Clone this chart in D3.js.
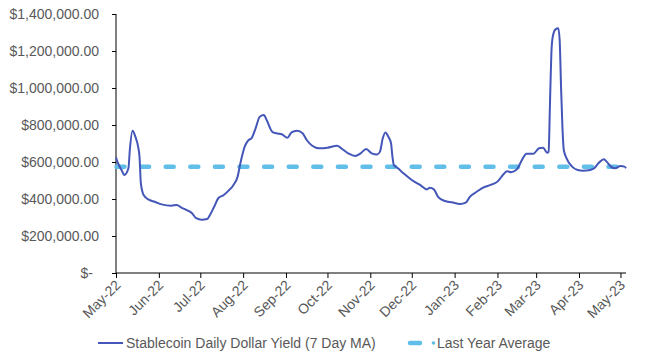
<!DOCTYPE html>
<html>
<head>
<meta charset="utf-8">
<script src="https://cdn.jsdelivr.net/npm/d3@7"></script>
<style>
  html, body { margin: 0; padding: 0; background: #fff; }
  svg { display: block; }
  text { font-family: "Liberation Sans", Arial, sans-serif; fill: #595959; }
</style>
</head>
<body>
<svg id="chart" width="648" height="360"></svg>
<script>
// ---- data ----
const dates = [
  "2022-05-01","2022-05-02","2022-05-05","2022-05-07","2022-05-10","2022-05-11","2022-05-13","2022-05-15",
  "2022-05-17","2022-05-18","2022-05-19","2022-05-21","2022-05-25","2022-05-29","2022-06-03","2022-06-10",
  "2022-06-14","2022-06-17","2022-06-22","2022-06-25","2022-06-28","2022-07-02","2022-07-06","2022-07-08",
  "2022-07-11","2022-07-14","2022-07-18","2022-07-22","2022-07-25","2022-07-28","2022-07-30","2022-08-02",
  "2022-08-04","2022-08-05","2022-08-07","2022-08-10","2022-08-13","2022-08-16","2022-08-18","2022-08-22",
  "2022-08-25","2022-08-29","2022-09-02","2022-09-05","2022-09-09","2022-09-13","2022-09-16","2022-09-20",
  "2022-09-25","2022-10-01","2022-10-08","2022-10-11","2022-10-16","2022-10-21","2022-10-25","2022-10-29",
  "2022-11-02","2022-11-06","2022-11-08","2022-11-10","2022-11-12","2022-11-14","2022-11-16","2022-11-17",
  "2022-11-18","2022-11-21","2022-11-25","2022-12-01","2022-12-07","2022-12-12","2022-12-14","2022-12-17",
  "2022-12-20","2022-12-25","2022-12-30","2023-01-05","2023-01-09","2023-01-12","2023-01-17","2023-01-22",
  "2023-01-27","2023-02-01","2023-02-04","2023-02-08","2023-02-11","2023-02-15","2023-02-19","2023-02-22",
  "2023-02-27","2023-03-03","2023-03-06","2023-03-09","2023-03-10","2023-03-11","2023-03-12","2023-03-13",
  "2023-03-15","2023-03-17","2023-03-18","2023-03-19","2023-03-20","2023-03-21","2023-03-23","2023-03-27",
  "2023-03-31","2023-04-04","2023-04-09","2023-04-12","2023-04-15","2023-04-19","2023-04-21","2023-04-24",
  "2023-04-27","2023-05-01","2023-05-04","2023-05-05"
];
const yieldValues = [
  625000,602000,557000,530000,566000,665000,769000,737000,
  683000,629000,485000,422000,395000,385000,371000,364000,
  368000,355000,337000,323000,296000,288000,292000,314000,
  358000,404000,422000,449000,476000,521000,593000,680000,
  710000,719000,728000,782000,845000,854000,827000,764000,
  755000,750000,731000,760000,769000,755000,719000,688000,
  674000,677000,688000,674000,647000,632000,647000,670000,
  647000,641000,656000,728000,760000,737000,701000,629000,
  584000,566000,539000,503000,476000,452000,461000,452000,
  412000,389000,382000,373000,380000,412000,439000,463000,
  476000,494000,521000,550000,545000,560000,615000,645000,
  645000,674000,677000,650000,656000,917000,1188000,1277000,
  1317000,1323000,1259000,1007000,791000,665000,620000,575000,
  557000,553000,557000,566000,593000,615000,602000,575000,
  566000,578000,575000,566000
];
const lastYearAverage = 575000;
const yTicks = [0, 200000, 400000, 600000, 800000, 1000000, 1200000, 1400000];
const xDomain = ["2022-05-01", "2023-05-05"];
const tickMonths = ["2022-05-01","2022-06-01","2022-07-01","2022-08-01","2022-09-01","2022-10-01",
  "2022-11-01","2022-12-01","2023-01-01","2023-02-01","2023-03-01","2023-04-01","2023-05-01"];
const seriesNames = ["Stablecoin Daily Dollar Yield (7 Day MA)", "Last Year Average"];

// ---- drawing ----
(function () {
const parse = d3.utcParse("%Y-%m-%d");
const data = dates.map((d, i) => ({ date: parse(d), value: yieldValues[i] }));

const svg = d3.select("#chart");
const pLeft = 116, pRight = 626, pTop = 14, pBottom = 273;
const FONT = "14px";
const lineColor = "#4456B8";
const avgColor = "#60BEE9";

const x = d3.scaleUtc().domain(xDomain.map(parse)).range([pLeft, pRight]);
const y = d3.scaleLinear().domain([0, 1400000]).range([pBottom, pTop]);

// y axis
const yAxis = d3.axisLeft(y).tickValues(yTicks).tickSize(4).tickPadding(13)
  .tickFormat(v => v === 0 ? "$-" : "$" + d3.format(",.2f")(v));
const gy = svg.append("g").attr("transform", `translate(${pLeft},0)`).call(yAxis);
gy.select(".domain").attr("stroke", "#000").attr("d", `M0,${pTop}V${pBottom}`);
gy.selectAll(".tick line").attr("stroke", "#000");
gy.selectAll(".tick text").style("font-size", FONT).attr("fill", "#595959")
  .attr("dx", d => d === 0 ? -6 : 0);

// x axis
const xAxis = d3.axisBottom(x).tickValues(tickMonths.map(parse)).tickSize(5)
  .tickFormat(d3.utcFormat("%b-%y"));
const gx = svg.append("g").attr("transform", `translate(0,${pBottom})`).call(xAxis);
gx.select(".domain").attr("stroke", "#000").attr("d", `M${pLeft},0H${pRight}`);
gx.selectAll(".tick line").attr("stroke", "#000");
gx.selectAll(".tick text").style("font-size", FONT).attr("fill", "#595959")
  .attr("text-anchor", "end").attr("dy", null).attr("y", 0)
  .attr("transform", "translate(5,13) rotate(-45)");

// average dashed line
svg.append("line")
  .attr("x1", x(parse(xDomain[0])) + 0.5).attr("x2", x(parse(xDomain[1])))
  .attr("y1", y(lastYearAverage)).attr("y2", y(lastYearAverage))
  .attr("stroke", avgColor).attr("stroke-width", 4.5)
  .attr("stroke-linecap", "round").attr("stroke-dasharray", "8,16.6");

// main series
const line = d3.line().x(d => x(d.date)).y(d => y(d.value)).curve(d3.curveMonotoneX);
svg.append("path").datum(data).attr("d", line)
  .attr("fill", "none").attr("stroke", lineColor).attr("stroke-width", 2)
  .attr("stroke-linejoin", "round");

// legend
const ly = 343;
svg.append("line").attr("x1", 98).attr("x2", 123).attr("y1", ly).attr("y2", ly)
  .attr("stroke", lineColor).attr("stroke-width", 2);
svg.append("text").attr("x", 126).attr("y", ly).attr("dy", "0.35em")
  .style("font-size", FONT).text(seriesNames[0]);
svg.append("line").attr("x1", 410).attr("x2", 420).attr("y1", ly).attr("y2", ly)
  .attr("stroke", avgColor).attr("stroke-width", 4.5)
  .attr("stroke-linecap", "round");
svg.append("circle").attr("cx", 433.5).attr("cy", ly).attr("r", 1.8).attr("fill", avgColor);
svg.append("text").attr("x", 437).attr("y", ly).attr("dy", "0.35em")
  .style("font-size", FONT).text(seriesNames[1]);
})();
</script>
</body>
</html>
